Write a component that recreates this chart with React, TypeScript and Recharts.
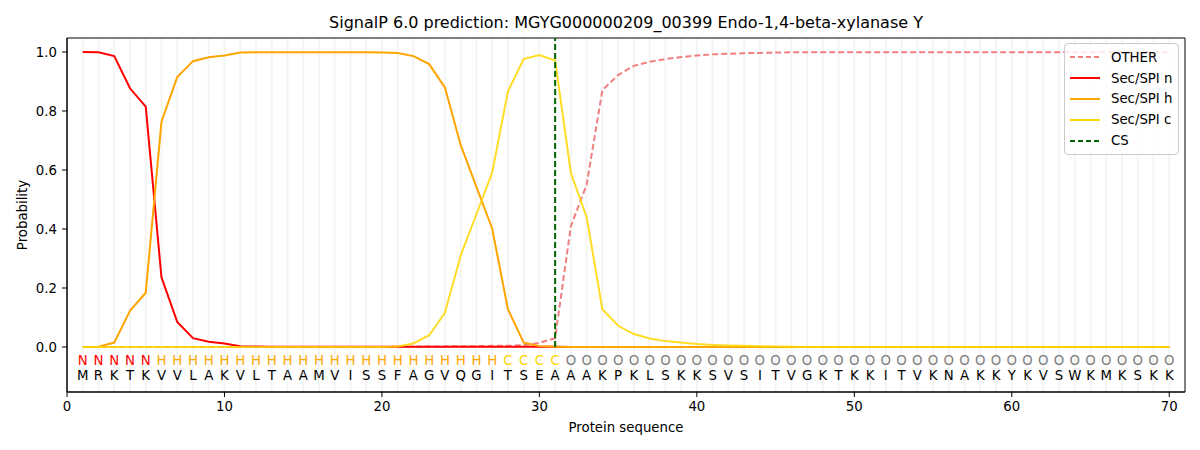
import {
  ComposedChart,
  Line,
  Scatter,
  XAxis,
  YAxis,
  ReferenceLine,
  ReferenceArea,
  Legend,
} from "recharts";

const residues = "MRKTKVVLAKVLTAAMVISSFAGVQGITSEAAAKPKLSKKSVSITVGKTKKITVKNAKKYKVSWKMKSKK".split("");
const regionLabels = "NNNNNHHHHHHHHHHHHHHHHHHHHHHCCCCOOOOOOOOOOOOOOOOOOOOOOOOOOOOOOOOOOOOOOO".split("");

const secN = [
  1.0, 0.999, 0.986, 0.877, 0.815, 0.236, 0.085, 0.03, 0.018, 0.012,
  0.003, 0.002, 0.001, 0.001, 0.001, 0.001, 0.001, 0.001, 0.001, 0.001,
  0.001, 0.001, 0.001, 0.001, 0.001, 0.001, 0.001, 0.001, 0.001, 0.001,
  0.001, 0, 0, 0, 0, 0, 0, 0, 0, 0,
  0, 0, 0, 0, 0, 0, 0, 0, 0, 0,
  0, 0, 0, 0, 0, 0, 0, 0, 0, 0,
  0, 0, 0, 0, 0, 0, 0, 0, 0, 0,
];

const secH = [
  0, 0.001, 0.015, 0.123, 0.184, 0.764, 0.915, 0.969, 0.982, 0.988,
  0.998, 0.999, 0.999, 0.999, 0.999, 0.999, 0.999, 0.999, 0.999, 0.998,
  0.997, 0.986, 0.959, 0.88, 0.685, 0.543, 0.402, 0.128, 0.015, 0.003,
  0.001, 0, 0, 0, 0, 0, 0, 0, 0, 0,
  0, 0, 0, 0, 0, 0, 0, 0, 0, 0,
  0, 0, 0, 0, 0, 0, 0, 0, 0, 0,
  0, 0, 0, 0, 0, 0, 0, 0, 0, 0,
];

const secC = [
  0, 0, 0, 0, 0, 0, 0, 0, 0, 0,
  0, 0, 0, 0, 0, 0, 0, 0, 0, 0,
  0.002, 0.012, 0.04, 0.116, 0.31, 0.45, 0.591, 0.866, 0.976, 0.99,
  0.971, 0.59, 0.44, 0.128, 0.072, 0.044, 0.029, 0.02, 0.015, 0.01,
  0.007, 0.005, 0.004, 0.003, 0.002, 0.001, 0, 0, 0, 0,
  0, 0, 0, 0, 0, 0, 0, 0, 0, 0,
  0, 0, 0, 0, 0, 0, 0, 0, 0, 0,
];

const other = [
  0, 0, 0, 0, 0, 0, 0, 0, 0, 0,
  0, 0, 0, 0, 0, 0, 0, 0, 0, 0,
  0.001, 0.001, 0.002, 0.002, 0.003, 0.003, 0.004, 0.004, 0.006, 0.014,
  0.03, 0.41, 0.55, 0.871, 0.922, 0.953, 0.967, 0.976, 0.983, 0.988,
  0.992, 0.994, 0.996, 0.997, 0.998, 0.999, 0.999, 0.999, 0.999, 0.999,
  0.999, 0.999, 0.999, 0.999, 0.999, 0.999, 0.999, 0.999, 0.999, 0.999,
  0.999, 0.999, 0.999, 0.999, 0.999, 0.999, 0.999, 0.999, 0.999, 0.999,
];

const cleavageSite = 31;
const xTicks = [0, 10, 20, 30, 40, 50, 60, 70];
const yTicks = [0, 0.2, 0.4, 0.6, 0.8, 1.0];
const Y_MIN = -0.1525;
const Y_MAX = 1.0475;

const FONT = "'DejaVu Sans', sans-serif";

const labelColor: Record<string, string> = {
  N: "#ff0000",
  H: "#ffa500",
  C: "#ffd700",
  O: "#808080",
};

const rows = residues.map((_, i) => ({
  pos: i + 1,
  other: other[i],
  n: secN[i],
  h: secH[i],
  c: secC[i],
}));

const labelPoints = regionLabels.map((l, i) => ({ pos: i + 1, y: -0.047, text: l }));
const residuePoints = residues.map((r, i) => ({ pos: i + 1, y: -0.098, text: r }));

const legendItems = [
  { name: "OTHER", color: "#f08080", dash: "5 3" },
  { name: "Sec/SPI n", color: "#ff0000" },
  { name: "Sec/SPI h", color: "#ffa500" },
  { name: "Sec/SPI c", color: "#ffd700" },
  { name: "CS", color: "#006400", dash: "5 3" },
];

function LegendBox() {
  return (
    <div
      style={{
        background: "rgba(255,255,255,0.8)",
        border: "1px solid #cccccc",
        borderRadius: 4,
        padding: "3px 6px 3px 5px",
        fontFamily: FONT,
        fontSize: 13.3,
        color: "#000",
        whiteSpace: "nowrap",
        boxSizing: "border-box",
        width: 115,
      }}
    >
      {legendItems.map((it) => (
        <div key={it.name} style={{ display: "flex", alignItems: "center", height: 20.8 }}>
          <svg width={30} height={10} style={{ marginRight: 11, flexShrink: 0 }}>
            <line
              x1={0}
              x2={30}
              y1={5}
              y2={5}
              stroke={it.color}
              strokeWidth={2}
              strokeDasharray={it.dash}
            />
          </svg>
          <span>{it.name}</span>
        </div>
      ))}
    </div>
  );
}

function textShape(color?: string) {
  return (props: any) => {
    const { cx, cy, payload } = props;
    return (
      <text
        x={cx}
        y={cy}
        textAnchor="middle"
        dominantBaseline="central"
        fontFamily={FONT}
        fontSize={13.3}
        fill={color ?? labelColor[payload.text]}
      >
        {payload.text}
      </text>
    );
  };
}

export default function App() {
  return (
    <div style={{ position: "absolute", left: 0, top: 0, width: 1200, height: 450, background: "#fff" }}>
      <div
        style={{
          position: "absolute",
          left: 67,
          width: 1118,
          top: 13,
          textAlign: "center",
          fontFamily: FONT,
          fontSize: 16,
          lineHeight: "20px",
          color: "#000",
        }}
      >
        SignalP 6.0 prediction: MGYG000000209_00399 Endo-1,4-beta-xylanase Y
      </div>
      <ComposedChart
        width={1200}
        height={450}
        data={rows}
        margin={{ top: 38, right: 15, left: 7, bottom: 13 }}
      >
        <XAxis
          dataKey="pos"
          type="number"
          domain={[0, 71]}
          ticks={xTicks}
          allowDataOverflow
          height={45}
          stroke="#000"
          tickSize={5}
          tickMargin={5}
          tick={{ fill: "#000", fontSize: 13.3, fontFamily: FONT }}
          label={({ viewBox }: any) => (
            <text
              x={viewBox.x + viewBox.width / 2}
              y={427}
              textAnchor="middle"
              dominantBaseline="central"
              fontFamily={FONT}
              fontSize={13.3}
              fill="#000"
            >
              Protein sequence
            </text>
          )}
        />
        <YAxis
          type="number"
          domain={[Y_MIN, Y_MAX]}
          ticks={yTicks}
          allowDataOverflow
          width={60}
          stroke="#000"
          tickSize={5}
          tickMargin={5}
          tickFormatter={(v: number) => v.toFixed(1)}
          tick={{ fill: "#000", fontSize: 13.3, fontFamily: FONT }}
          label={({ viewBox }: any) => (
            <text
              x={22}
              y={viewBox.y + viewBox.height / 2}
              textAnchor="middle"
              dominantBaseline="central"
              transform={`rotate(-90, 22, ${viewBox.y + viewBox.height / 2})`}
              fontFamily={FONT}
              fontSize={13.3}
              fill="#000"
            >
              Probability
            </text>
          )}
        />
        {rows.map((r) => (
          <ReferenceLine key={r.pos} x={r.pos} stroke="#000" strokeOpacity={0.045} strokeWidth={2} />
        ))}
        <Line dataKey="other" stroke="#f08080" strokeWidth={2} strokeDasharray="6 3" dot={false} isAnimationActive={false} />
        <Line dataKey="n" stroke="#ff0000" strokeWidth={2} dot={false} isAnimationActive={false} />
        <Line dataKey="h" stroke="#ffa500" strokeWidth={2} dot={false} isAnimationActive={false} />
        <Line dataKey="c" stroke="#ffd700" strokeWidth={2} strokeOpacity={0.85} dot={false} isAnimationActive={false} />
        <ReferenceLine
          segment={[
            { x: cleavageSite, y: 0 },
            { x: cleavageSite, y: Y_MAX },
          ]}
          stroke="#006400"
          strokeWidth={2}
          strokeDasharray="6 3"
        />
        <Scatter data={labelPoints} dataKey="y" shape={textShape()} isAnimationActive={false} />
        <Scatter data={residuePoints} dataKey="y" shape={textShape("#000")} isAnimationActive={false} />
        <ReferenceArea x1={0} x2={71} y1={Y_MIN} y2={Y_MAX} fill="none" stroke="#000" strokeWidth={1} />
        <Legend
          layout="horizontal"
          verticalAlign="middle"
          align="center"
          content={() => <LegendBox />}
          wrapperStyle={{ position: "absolute", left: 1064, top: 43, width: 115, height: "auto" }}
        />
      </ComposedChart>
    </div>
  );
}
